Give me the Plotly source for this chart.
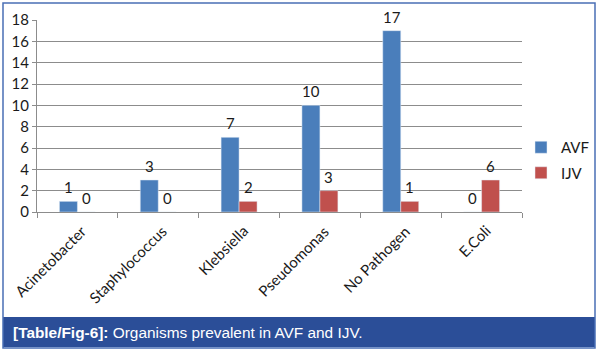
import plotly.graph_objects as go

categories = ["Acinetobacter", "Staphylococcus", "Klebsiella", "Pseudomonas", "No Pathogen", "E.Coli"]
avf_values = [1, 3, 7, 10, 17, 0]
ijv_values = [0, 0, 1, 2, 1, 3]
avf_labels = ["1", "3", "7", "10", "17", "0"]
ijv_labels = ["0", "0", "2", "3", "1", "6"]
y_ticks = [0, 2, 4, 6, 8, 10, 12, 14, 16, 18]

W, H = 598, 352
L, R, T, B = 37, 76, 20, 140
pw, ph = W - L - R, H - T - B

def px(x):
    return (x - L) / pw

def py(y):
    return (H - B - y) / ph

font_main = "Lato, 'Open Sans', sans-serif"

fig = go.Figure()
fig.add_trace(go.Bar(x=categories, y=avf_values, name="AVF", marker_color="#4a7ebb",
                     legendgroup="a"))
fig.add_trace(go.Bar(x=categories, y=ijv_values, name="IJV", marker_color="#c0504d",
                     legendgroup="b"))

# data labels
for cat, v, t in zip(categories, avf_values, avf_labels):
    fig.add_annotation(x=cat, y=v, text=t, xref="x", yref="y", showarrow=False,
                       xshift=-9, yshift=14, font=dict(size=15, color="#1a1a1a", family=font_main))
for cat, v, t in zip(categories, ijv_values, ijv_labels):
    fig.add_annotation(x=cat, y=v, text=t, xref="x", yref="y", showarrow=False,
                       xshift=9, yshift=14, font=dict(size=15, color="#1a1a1a", family=font_main))

# category labels (rotated)
for cat in categories:
    fig.add_annotation(x=cat, y=0, text=cat, xref="x", yref="y", showarrow=False,
                       textangle=-45, xanchor="right", yanchor="top",
                       xshift=15, yshift=-7,
                       font=dict(size=15, color="#1a1a1a", family=font_main))

# invisible trace for boundary tick marks
fig.add_trace(go.Scatter(x=[-0.5, 5.5], y=[0, 0], xaxis="x2", mode="lines",
                         line=dict(width=0), showlegend=False, hoverinfo="skip"))

# caption band
fig.add_shape(type="rect", xref="paper", yref="paper",
              x0=px(3), x1=px(595), y0=py(347), y1=py(317),
              fillcolor="#2b4e98", line=dict(width=0), layer="below")
# outer frame
fig.add_shape(type="rect", xref="paper", yref="paper",
              x0=px(3), x1=px(595), y0=py(348), y1=py(3),
              line=dict(color="#4a6fb5", width=1.5), fillcolor="rgba(0,0,0,0)")

fig.add_annotation(xref="paper", yref="paper", x=px(11), y=py(332), xanchor="left", yanchor="middle",
                   showarrow=False,
                   text="<b>[Table/Fig-6]:</b> Organisms prevalent in AVF and IJV.",
                   font=dict(family="'Liberation Sans', Arial, sans-serif",
                             size=15.4, color="white"))

fig.update_layout(
    width=W, height=H,
    margin=dict(l=L, r=R, t=T, b=B, autoexpand=False),
    paper_bgcolor="white", plot_bgcolor="white",
    barmode="group", bargap=0.555, bargroupgap=0,
    font=dict(family=font_main, size=15, color="#1a1a1a"),
    legend=dict(x=px(521), y=py(131), xanchor="left", yanchor="top",
                font=dict(size=15, family=font_main), tracegroupgap=3,
                bgcolor="rgba(0,0,0,0)"),
    xaxis=dict(type="category", showgrid=False, showline=True,
               linecolor="#8c8c8c", linewidth=1, ticks="", showticklabels=False,
               range=[-0.5, 5.5], automargin=False),
    xaxis2=dict(overlaying="x", range=[-0.5, 5.5], tickvals=[-0.5, 0.5, 1.5, 2.5, 3.5, 4.5, 5.5],
                ticks="outside", ticklen=5, tickcolor="#8c8c8c", showticklabels=False,
                showgrid=False, side="bottom", anchor="y", zeroline=False, automargin=False),
    yaxis=dict(range=[0, 18], tickvals=y_ticks, showgrid=True, gridcolor="#8c8c8c",
               gridwidth=1, showline=True, linecolor="#8c8c8c", ticks="outside",
               ticklen=4, tickcolor="#8c8c8c", zeroline=False, tickfont=dict(size=15),
               automargin=False),
)

fig.write_html("out.html")
